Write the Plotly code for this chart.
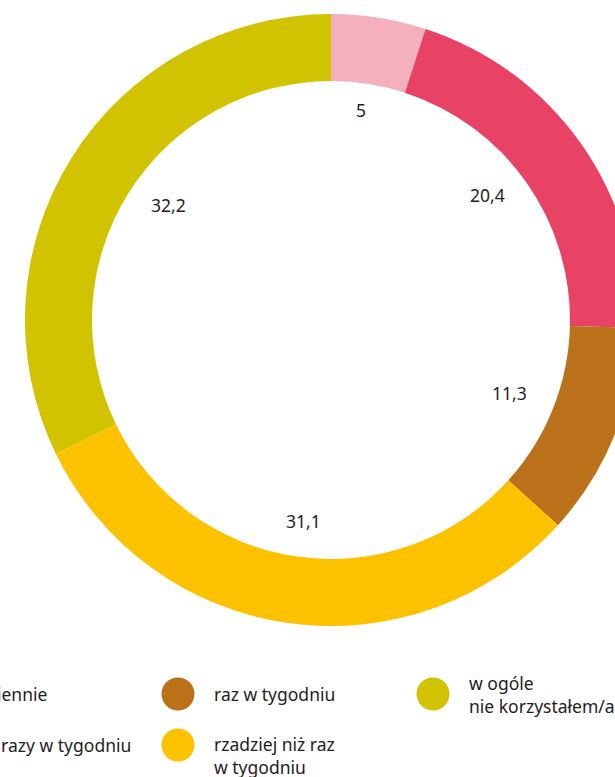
import math
import plotly.graph_objects as go

# Share of respondents by frequency of use (%)
categories = [
    "codziennie",
    "kilka razy w tygodniu",
    "raz w tygodniu",
    "rzadziej niż raz<br>w tygodniu",
    "w ogóle<br>nie korzystałem/am",
]
values = [5.0, 20.4, 11.3, 31.1, 32.2]
value_labels = ["5", "20,4", "11,3", "31,1", "32,2"]

colors = ["#F4B0BC", "#E84265", "#BA7119", "#FCC200", "#D1C300"]

W, H = 660, 777
CX, CY, R_OUT, R_IN = 331, 320, 306, 239
FONT = "Noto Sans"
FS = 17.5
TEXT_COLOR = "#1e1e1e"

fig = go.Figure(
    go.Pie(
        labels=categories,
        values=values,
        marker=dict(colors=colors, line=dict(width=0)),
        hole=R_IN / R_OUT,
        sort=False,
        direction="clockwise",
        rotation=0,
        textinfo="none",
        hoverinfo="label+value",
        showlegend=False,
        domain=dict(
            x=[(CX - R_OUT) / W, (CX + R_OUT) / W],
            y=[1 - (CY + R_OUT) / H, 1 - (CY - R_OUT) / H],
        ),
    )
)

annotations = []


def add_text(px, py, text, xanchor="center", yanchor="middle"):
    annotations.append(dict(
        x=px / W, y=1 - py / H, xref="paper", yref="paper",
        text=text, showarrow=False, xanchor=xanchor, yanchor=yanchor,
        align="left", font=dict(family=FONT, size=FS, color=TEXT_COLOR),
    ))


# value labels inside the hole, on an ellipse at each slice's mid angle
LAB_CY, LAB_RX, LAB_RY = 315.5, 192, 208
total = sum(values)
cum = 0.0
for v, lab in zip(values, value_labels):
    mid = (cum + v / 2) / total * 2 * math.pi
    cum += v
    add_text(CX + LAB_RX * math.sin(mid), LAB_CY - LAB_RY * math.cos(mid), lab)

# legend laid out column by column
col_x = [-77, 178, 433]
row_y = [694, 745]
slots = [(0, 0), (0, 1), (1, 0), (1, 1), (2, 0)]
shapes = []
MR = 16.5
LINE = FS * 1.3
for (c, r), name, col in zip(slots, categories, colors):
    mx, my = col_x[c], row_y[r]
    shapes.append(dict(
        type="circle", xref="paper", yref="paper",
        x0=(mx - MR) / W, x1=(mx + MR) / W,
        y0=1 - (my + MR) / H, y1=1 - (my - MR) / H,
        fillcolor=col, line=dict(width=0),
    ))
    n_lines = name.count("<br>") + 1
    if n_lines > 1 and r == 1:
        # first line level with the marker, further lines below it
        ty = my - 1 + LINE * (n_lines - 1) / 2
    else:
        ty = my
    add_text(mx + 34, ty, name, xanchor="left")

fig.update_layout(
    width=W, height=H, autosize=False,
    margin=dict(l=0, r=0, t=0, b=0),
    paper_bgcolor="white", plot_bgcolor="white",
    shapes=shapes, annotations=annotations,
)

fig.write_html(
    "out.html",
    post_script="document.body.style.margin='0';document.body.style.overflow='hidden';",
)
